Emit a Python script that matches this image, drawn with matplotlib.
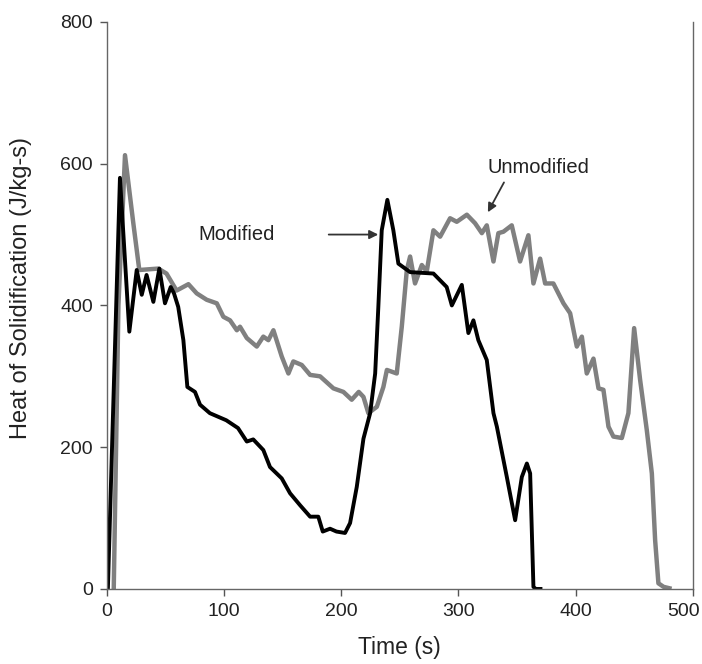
import matplotlib
matplotlib.use("Agg")
import matplotlib.pyplot as plt
from matplotlib.transforms import ScaledTranslation

plt.rcParams['font.family'] = ['Liberation Sans', 'DejaVu Sans']

# Modified (black)
mod_t = [1, 11.3, 19.3, 25.6, 29.9, 34, 39.8, 44.9, 49.7, 54.6, 57.4, 61, 65.4, 68.8,
         75.3, 79.6, 88, 102, 112, 119.5, 125, 133.6, 139.3, 149.3, 156.4, 165, 173.5,
         180.5, 184.3, 190.5, 196, 203.3, 207.6, 213.3, 219, 224.7, 229, 231.7, 234.6,
         239.4, 244.5, 248.8, 258.8, 278.7, 290, 294.4, 302.9, 308.5, 312.8, 317, 324.2,
         329.9, 332.8, 341.3, 348.4, 354.1, 358.4, 361.2, 364, 366, 370]
mod_q = [0, 580, 363, 450, 415, 443, 405, 452, 403, 426, 417, 398, 351, 285,
         278, 260, 248, 238, 227, 208, 211, 196, 172, 156, 135, 118, 102,
         102, 81, 85, 81, 79, 93, 144, 212, 248, 304, 398, 506,
         549, 506, 459, 447, 445, 426, 400, 429, 361, 379, 351, 323,
         248, 229, 158, 97, 158, 177, 163, 3, 0, 0]

# Unmodified (gray)
unm_t = [6, 10, 15.6, 22.7, 27.8, 44, 51, 59.6, 69.7, 76.8, 85.3, 93.9, 99.5, 105.2,
         111, 113.7, 119.5, 128, 133.6, 137.9, 142.2, 149.3, 155, 159.2, 166.4, 173.5,
         182, 193.4, 201.9, 209, 215, 219, 223.2, 230.4, 236, 239, 247.4, 251.7, 256,
         258.8, 263, 268.8, 273, 278.7, 284.4, 292.9, 298.6, 307.2, 314.2, 320, 324.2,
         329.9, 334.1, 338.4, 345.5, 352.6, 359.7, 364, 369.7, 374, 381, 389.6, 395.3,
         401, 405.3, 409.5, 415.2, 419.5, 423.7, 428, 432.2, 439.4, 445, 449.9, 455,
         460.7, 465, 467.8, 470.6, 475, 480]
unm_q = [0, 400, 612, 516, 450, 452, 445, 421, 430, 417, 408, 403, 384, 379,
         365, 370, 354, 342, 356, 351, 365, 328, 304, 321, 316, 302,
         300, 283, 278, 267, 278, 271, 248, 257, 285, 309, 304, 370, 450,
         469, 431, 457, 448, 506, 497, 523, 518, 528, 516, 502, 513,
         462, 502, 504, 513, 462, 499, 431, 466, 431, 431, 403, 389,
         342, 356, 304, 325, 283, 281, 229, 215, 213, 248, 368, 295,
         224, 163, 69, 8, 3, 1]

x_ticks = [0, 100, 200, 300, 400, 500]
y_ticks = [0, 200, 400, 600, 800]

fig = plt.figure(figsize=(7.02, 6.64), dpi=100)
ax = fig.add_axes([0.152, 0.113, 0.835, 0.854])

ax.plot(unm_t, unm_q, color='#808080', lw=3.2, solid_joinstyle='round')
ax.plot(mod_t, mod_q, color='black', lw=2.8, solid_joinstyle='round')

ax.set_xlim(0, 500)
ax.set_ylim(0, 800)
ax.set_xticks(x_ticks)
ax.set_yticks(y_ticks)
ax.tick_params(direction='out', length=5, width=1, colors='#555555', labelsize=14,
               labelcolor='#222222', pad=5)
for s in ax.spines.values():
    s.set_color('#666666')
    s.set_linewidth(1.0)
ax.spines['top'].set_visible(False)

ax.set_xlabel('Time (s)', fontsize=16.5, color='#222222')
ax.xaxis.set_label_coords(0.5, -0.083)
ax.set_ylabel('Heat of Solidification (J/kg-s)', fontsize=17, color='#222222')
ax.yaxis.label.set_verticalalignment('center')
ax.yaxis.set_label_coords(-0.146, 0.53)

ax.text(111, 500, 'Modified', ha='center', va='center', fontsize=14.5, color='#222222')
ax.annotate('', xy=(234, 500), xytext=(187, 500),
            arrowprops=dict(arrowstyle='-|>', color='#333333', lw=1.3,
                            mutation_scale=13))
ax.text(368, 594, 'Unmodified', ha='center', va='center', fontsize=14.5, color='#222222')
ax.annotate('', xy=(324, 528), xytext=(340, 577),
            arrowprops=dict(arrowstyle='-|>', color='#333333', lw=1.3,
                            mutation_scale=13))

last = ax.get_xticklabels()[-1]
last.set_transform(last.get_transform() + ScaledTranslation(-9 / 100, 0, fig.dpi_scale_trans))

fig.savefig('out.png', dpi=100)
